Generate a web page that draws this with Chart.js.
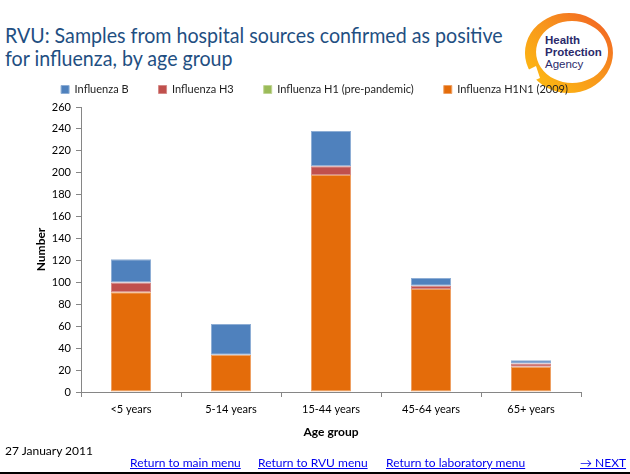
<!DOCTYPE html>
<html>
<head>
<meta charset="utf-8">
<script src="https://cdn.jsdelivr.net/npm/chart.js@4"></script>
<style>
  body { margin: 0; width: 630px; height: 474px; overflow: hidden; background: #fff; font-family: Lato, "Liberation Sans", sans-serif; position: relative; }
  .title { position: absolute; left: 5px; top: 23px; font-size: 22px; line-height: 23px; color: #1f4f82; white-space: nowrap; transform-origin: 0 0; }
  #logo { position: absolute; left: 500px; top: 8px; }
  #wrap { position: absolute; left: 0; top: 54px; width: 630px; height: 400px; }
  .date { position: absolute; left: 5px; top: 443px; font-size: 12px; color: #000; }
  .link { position: absolute; top: 455px; font-size: 12px; color: #0000ee; text-decoration: underline; white-space: nowrap; }
  .bottomline { position: absolute; left: 0; top: 472px; width: 630px; height: 2px; background: #000; }
</style>
</head>
<body>
<div class="title" id="title">RVU: Samples from hospital sources confirmed as positive<br>for influenza, by age group</div>

<svg id="logo" width="125" height="95" viewBox="0 0 125 95">
  <defs>
    <linearGradient id="ring" x1="0" y1="1" x2="1" y2="0">
      <stop offset="0" stop-color="#ffc20e"/>
      <stop offset="0.55" stop-color="#f7941d"/>
      <stop offset="1" stop-color="#f15a24"/>
    </linearGradient>
  </defs>
  <path fill="url(#ring)" fill-rule="evenodd"
        d="M 69 5 A 44 40 0 1 1 68.9 5 Z M 72 13 A 36 31 0 1 0 72.1 13 Z"/>
  <path fill="#fff" d="M 28 62 L 36 58 L 40 70 L 31 74 Z"/>
  <text x="45" y="36" font-family="Liberation Sans, sans-serif" font-weight="bold" font-size="11.5" fill="#2b2a6b">Health</text>
  <text x="45" y="48" font-family="Liberation Sans, sans-serif" font-weight="bold" font-size="11.5" fill="#2b2a6b">Protection</text>
  <text x="45" y="60" font-family="Liberation Sans, sans-serif" font-size="11.5" fill="#2b2a6b">Agency</text>
</svg>

<div id="wrap"><canvas id="chart"></canvas></div>

<div class="date">27 January 2011</div>
<div class="link" style="left:130px">Return to main menu</div>
<div class="link" style="left:258px">Return to RVU menu</div>
<div class="link" style="left:386px">Return to laboratory menu</div>
<div class="link" style="left:580px">&rarr; NEXT</div>
<div class="bottomline"></div>

<script>
const ageGroups = ["<5 years", "5-14 years", "15-44 years", "45-64 years", "65+ years"];
const fluH1N1 = [91, 34, 198, 94, 23];
const fluH1 = [0, 0, 0, 0, 0];
const fluH3 = [9, 0, 8, 3, 3];
const fluB = [21, 28, 32, 7, 3];
const yTicks = { min: 0, max: 260, step: 20 };

const axisColor = "#868686";
const tickFont = { family: "Lato, sans-serif", size: 11 };
const titleFont = { family: "Lato, sans-serif", size: 12, weight: "bold" };

// keep title on the same width as the original
const t = document.getElementById("title");
const scale = 498 / t.scrollWidth;
if (scale < 1.15 && scale > 0.8) t.style.transform = "scaleX(" + scale + ")";

const makeSet = (label, data, color, edge) => ({
    label: label,
    data: data,
    backgroundColor: color,
    borderColor: edge,
    borderWidth: 1,
    borderSkipped: false,
    barPercentage: 0.8,
    categoryPercentage: 0.5,
});

// legend sits centred on the whole slide, not just the plot
const legendShift = {
    id: "legendShift",
    afterLayout: (chart) => {
        const lg = chart.legend;
        lg.left += 24;
        lg.right += 24;
        lg.top -= 2;
        lg.bottom -= 2;
    },
};

new Chart(document.getElementById("chart"), {
    type: "bar",
    data: {
        labels: ageGroups,
        datasets: [
            makeSet("Influenza H1N1 (2009)", fluH1N1, "#e46c0a", "#eea063"),
            makeSet("Influenza H1 (pre-pandemic)", fluH1, "#9bbb59", "#c0d594"),
            makeSet("Influenza H3", fluH3, "#c0504d", "#d58a88"),
            makeSet("Influenza B", fluB, "#4f81bd", "#8eaed5"),
        ],
    },
    options: {
        responsive: true,
        maintainAspectRatio: false,
        animation: false,
        layout: { padding: { left: 0, right: 49, top: 2, bottom: 0 } },
        plugins: {
            legend: {
                reverse: true,
                labels: {
                    boxWidth: 8,
                    boxHeight: 8,
                    padding: 30,
                    color: "#222",
                    font: { family: "Lato, sans-serif", size: 11 },
                },
            },
            tooltip: { enabled: false },
        },
        scales: {
            x: {
                stacked: true,
                grid: { display: true, drawOnChartArea: false, drawTicks: true, tickLength: 5, color: axisColor },
                border: { color: axisColor, width: 1 },
                ticks: { color: "#000", font: tickFont, padding: 6, maxRotation: 0 },
                title: { display: true, text: "Age group", color: "#000", font: titleFont, padding: { top: 4, bottom: 15 } },
                afterFit: (s) => { s.height = 62; },
            },
            y: {
                stacked: true,
                min: yTicks.min,
                max: yTicks.max,
                grid: { display: true, drawOnChartArea: false, drawTicks: true, tickLength: 5, color: axisColor },
                border: { color: axisColor, width: 1 },
                ticks: { stepSize: yTicks.step, color: "#000", font: tickFont, padding: 5 },
                title: { display: true, text: "Number", color: "#000", font: titleFont, padding: { top: 34, bottom: 4 } },
                afterFit: (s) => { s.width = 81; },
            },
        },
    },
    plugins: [legendShift],
});
</script>
</body>
</html>
